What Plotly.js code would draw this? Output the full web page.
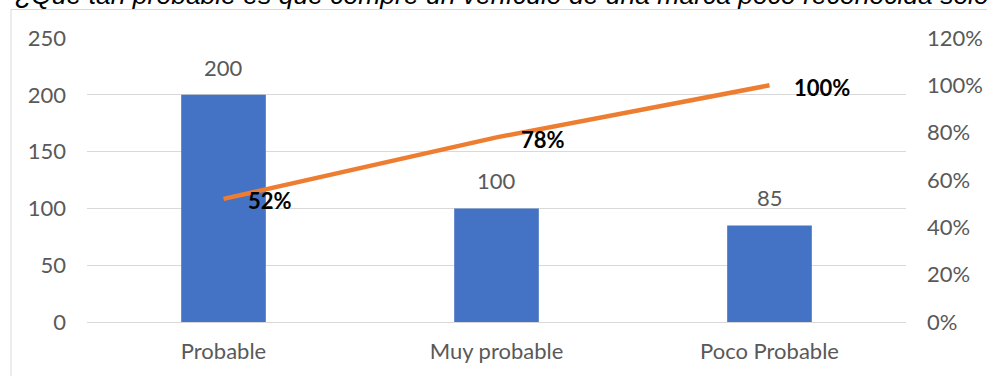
<!DOCTYPE html>
<html>
<head>
<meta charset="utf-8">
<script src="https://cdn.plot.ly/plotly-3.0.1.min.js"></script>
<style>
  html, body { margin: 0; padding: 0; background: #ffffff; }
  #chart { width: 987px; height: 376px; }
</style>
</head>
<body>
<div id="chart"></div>
<script>
// Survey answers: how many respondents per answer, and the running share
const categories = ['Probable', 'Muy probable', 'Poco Probable'];
const counts = [200, 100, 85];
const cumulative = [0.52, 0.78, 1.00];
const leftTicks = [0, 50, 100, 150, 200, 250];
const rightTicks = [0, 0.2, 0.4, 0.6, 0.8, 1.0, 1.2];
const headline = '¿Qué tan probable es que compre un vehículo de una marca poco reconocida sólo';

const W = 987, H = 376;
const M = { l: 87, r: 81, t: 38, b: 54 };
const plotW = W - M.l - M.r, plotH = H - M.t - M.b;
// pixel -> paper helpers for the frame and heading
const px = x => (x - M.l) / plotW;
const py = y => (H - M.b - y) / plotH;

const bodyFont = 'Lato, "Noto Sans", sans-serif';
const grey = '#595959';

const bars = {
  type: 'bar',
  x: categories,
  y: counts,
  width: 0.31,
  marker: { color: '#4472C4' },
  hoverinfo: 'skip'
};

const share = {
  type: 'scatter',
  mode: 'lines',
  x: categories,
  y: cumulative,
  yaxis: 'y2',
  line: { color: '#ED7D31', width: 4.5 },
  hoverinfo: 'skip'
};

const annotations = [];
categories.forEach((c, i) => {
  annotations.push({
    x: c, y: counts[i], xref: 'x', yref: 'y',
    text: String(counts[i]),
    showarrow: false, yanchor: 'bottom', yshift: 12,
    font: { family: bodyFont, size: 22, color: grey }
  });
  annotations.push({
    x: c, y: cumulative[i], xref: 'x', yref: 'y2',
    text: '<b>' + Math.round(cumulative[i] * 100) + '%</b>',
    showarrow: false, xanchor: 'left', yanchor: 'middle', xshift: 22, yshift: -2,
    font: { family: bodyFont, size: 22, color: '#000000' }
  });
});
annotations.push({
  xref: 'paper', yref: 'paper', x: px(13), y: py(12),
  xanchor: 'left', yanchor: 'bottom', showarrow: false,
  text: '<i>' + headline + '</i>',
  font: { family: '"Liberation Sans", Arial, sans-serif', size: 26.5, color: '#000000' }
});

const layout = {
  width: W, height: H,
  margin: M,
  paper_bgcolor: '#ffffff',
  plot_bgcolor: '#ffffff',
  showlegend: false,
  font: { family: bodyFont, size: 22, color: grey },
  xaxis: {
    type: 'category',
    showline: false, ticks: '', showgrid: false, zeroline: false,
    ticklabelstandoff: 14,
    tickfont: { family: bodyFont, size: 22, color: grey }
  },
  yaxis: {
    range: [0, 250], tickvals: leftTicks,
    showgrid: true, gridcolor: '#d9d9d9', gridwidth: 1,
    zeroline: true, zerolinecolor: '#d9d9d9', zerolinewidth: 1,
    showline: false, ticks: '', ticklabelstandoff: 20,
    tickfont: { family: bodyFont, size: 22, color: grey }
  },
  yaxis2: {
    overlaying: 'y', side: 'right',
    range: [0, 1.2], tickvals: rightTicks, tickformat: '.0%',
    showgrid: false, zeroline: false, showline: false, ticks: '',
    ticklabelstandoff: 20,
    tickfont: { family: bodyFont, size: 22, color: grey }
  },
  shapes: [{
    type: 'rect', xref: 'paper', yref: 'paper',
    x0: px(11), x1: px(W + 20), y0: py(H + 20), y1: py(9.5),
    line: { color: '#d9d9d9', width: 1 }, fillcolor: 'rgba(0,0,0,0)',
    layer: 'below'
  }],
  annotations: annotations
};

Plotly.newPlot('chart', [bars, share], layout, { staticPlot: true, displayModeBar: false });
</script>
</body>
</html>
